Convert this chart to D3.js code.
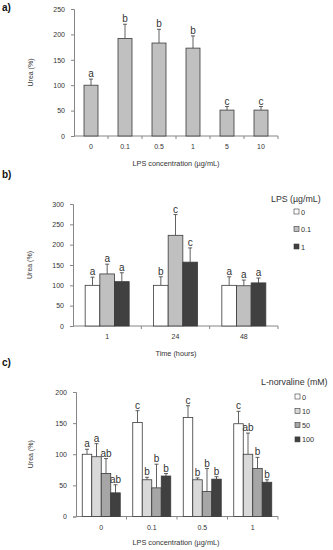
<!DOCTYPE html>
<html lang="en">
<head>
<meta charset="UTF-8">
<title>Urea</title>
<style>
  body { margin: 0; background: #fff; }
  svg { display: block; font-family: "Liberation Sans", Arial, sans-serif; }
</style>
</head>
<body>
<script src="https://cdnjs.cloudflare.com/ajax/libs/d3/7.8.5/d3.min.js"></script>
<script>
// panel a
const aCats = ['0', '0.1', '0.5', '1', '5', '10'];
const aVals = [100, 192, 183, 173, 51, 51];
const aErr = [112, 220, 210, 197, 58, 58];
const aLetters = ['a', 'b', 'b', 'b', 'c', 'c'];
const aTicks = [0, 50, 100, 150, 200, 250];

// panel b
const bCats = ['1', '24', '48'];
const bSeries = ['0', '0.1', '1'];
const bVals = [[100, 128, 109], [100, 223, 157], [100, 99, 106]];
const bErr = [[120, 152, 131], [121, 274, 192], [121, 113, 118]];
const bLetters = [['a', 'a', 'a'], ['b', 'c', 'c'], ['a', 'a', 'a']];
const bTicks = [0, 50, 100, 150, 200, 250, 300];

// panel c
const cCats = ['0', '0.1', '0.5', '1'];
const cSeries = ['0', '10', '50', '100'];
const cVals = [[100, 96, 69, 38], [151, 59, 46, 65], [159, 59, 40, 60], [149, 100, 77, 55]];
const cErr = [[108, 117, 93, 51], [170, 63, 84, 69], [178, 62, 77, 64], [169, 134, 95, 59]];
const cLetters = [['a', 'a', 'ab', 'ab'], ['c', 'b', 'b', 'b'], ['c', 'b', 'b', 'b'], ['c', 'ab', 'b', 'b']];
const cTicks = [0, 50, 100, 150, 200];

const W = 333, H = 550;
const AXIS = '#868686', EDGE = '#3a3a3a', TXT = '#333';

const svg = d3.select('body').append('svg').attr('width', W).attr('height', H);

function panel(opt) {
    const g = svg.append('g');
    const x0 = d3.scaleBand().domain(opt.cats).range([opt.left, opt.right]);
    const x1 = d3.scaleBand().domain(opt.series.map(String))
        .range([0, opt.groupW]);
    const y = d3.scaleLinear().domain([0, opt.ymax]).range([opt.bottom, opt.top]);
    const off = (x0.step() - opt.groupW) / 2;

    // y axis
    const ya = g.append('g').attr('transform', `translate(${opt.left},0)`)
        .call(d3.axisLeft(y).tickValues(opt.ticks).tickSize(3).tickPadding(6));
    ya.select('.domain').attr('stroke', AXIS);
    ya.selectAll('.tick line').attr('stroke', AXIS);
    ya.selectAll('text').attr('fill', TXT).style('font-size', '7px');

    // x axis: ticks between categories
    const xa = g.append('g').attr('transform', `translate(0,${opt.bottom})`);
    xa.append('line').attr('x1', opt.left).attr('x2', opt.right)
        .attr('stroke', AXIS);
    xa.selectAll('.xt').data(opt.cats).enter().append('line')
        .attr('x1', d => x0(d) + x0.step()).attr('x2', d => x0(d) + x0.step())
        .attr('y1', 0).attr('y2', 3).attr('stroke', AXIS);
    xa.selectAll('.xl').data(opt.cats).enter().append('text')
        .attr('x', d => x0(d) + x0.step() / 2).attr('y', 13)
        .attr('text-anchor', 'middle').attr('fill', TXT)
        .style('font-size', '7px').text(d => d);

    opt.cats.forEach((c, i) => {
        const grp = g.append('g').attr('transform', `translate(${x0(c) + off},0)`);
        opt.series.forEach((s, j) => {
            const v = opt.vals[i][j], e = opt.err[i][j];
            const bx = x1(String(s)), bw = x1.bandwidth(), cx = bx + bw / 2;
            grp.append('line').attr('x1', cx).attr('x2', cx)
                .attr('y1', y(v)).attr('y2', y(e)).attr('stroke', EDGE).attr('stroke-width', 0.8);
            grp.append('line').attr('x1', cx - 2).attr('x2', cx + 2)
                .attr('y1', y(e)).attr('y2', y(e)).attr('stroke', EDGE).attr('stroke-width', 0.8);
            grp.append('rect').attr('x', bx).attr('width', bw)
                .attr('y', y(v)).attr('height', y(0) - y(v))
                .attr('fill', opt.colors[j]).attr('stroke', EDGE).attr('stroke-width', 0.8);
            grp.append('text').attr('x', cx).attr('y', y(e) - 2)
                .attr('text-anchor', 'middle').attr('fill', TXT)
                .style('font-size', '10px').text(opt.letters[i][j]);
        });
    });

    // axis titles
    g.append('text').attr('transform', `translate(${opt.ylabX},${(opt.top + opt.bottom) / 2}) rotate(-90)`)
        .attr('text-anchor', 'middle').attr('fill', TXT).style('font-size', '7px').text('Urea (%)');
    g.append('text').attr('x', 176).attr('y', opt.xlabY)
        .attr('text-anchor', 'middle').attr('fill', TXT).style('font-size', '7.3px').text(opt.xlab);

    // panel tag
    g.append('text').attr('x', 2).attr('y', opt.tagY).attr('fill', '#111')
        .style('font-size', '10px').style('font-weight', 'bold').text(opt.tag);

    // legend
    if (opt.legend) {
        const lg = g.append('g');
        lg.append('text').attr('x', opt.legend.titleX).attr('y', opt.legend.titleY)
            .attr('fill', TXT).style('font-size', '8.8px').text(opt.legend.title);
        opt.series.forEach((s, j) => {
            const yy = opt.legend.y0 + j * opt.legend.dy;
            lg.append('rect').attr('x', opt.legend.x).attr('y', yy - 3)
                .attr('width', 5).attr('height', 5)
                .attr('fill', opt.colors[j]).attr('stroke', EDGE).attr('stroke-width', 0.6);
            lg.append('text').attr('x', opt.legend.x + 7).attr('y', yy + 2.5)
                .attr('fill', TXT).style('font-size', '7.3px').text(s);
        });
    }
}

panel({
    tag: 'a)', tagY: 11,
    cats: aCats, series: ['v'],
    vals: aVals.map(v => [v]), err: aErr.map(v => [v]), letters: aLetters.map(v => [v]),
    colors: ['#c0c0c0'], ticks: aTicks, ymax: 250,
    left: 74, right: 278, top: 9, bottom: 136, groupW: 14,
    ylabX: 33, xlabY: 166, xlab: 'LPS concentration (µg/mL)'
});

panel({
    tag: 'b)', tagY: 178,
    cats: bCats, series: bSeries, vals: bVals, err: bErr, letters: bLetters,
    colors: ['#ffffff', '#c0c0c0', '#404040'], ticks: bTicks, ymax: 300,
    left: 73, right: 278, top: 204, bottom: 326, groupW: 44,
    ylabX: 32, xlabY: 356, xlab: 'Time (hours)',
    legend: { title: 'LPS (µg/mL)', titleX: 271, x: 294, titleY: 202, y0: 212, dy: 17.5 }
});

panel({
    tag: 'c)', tagY: 366,
    cats: cCats, series: cSeries, vals: cVals, err: cErr, letters: cLetters,
    colors: ['#ffffff', '#d9d9d9', '#a6a6a6', '#404040'], ticks: cTicks, ymax: 200,
    left: 76, right: 278, top: 392, bottom: 516.5, groupW: 38,
    ylabX: 33, xlabY: 545, xlab: 'LPS concentration (µg/mL)',
    legend: { title: 'L-norvaline (mM)', titleX: 261, x: 295, titleY: 385, y0: 397, dy: 14.3 }
});
</script>
</body>
</html>
